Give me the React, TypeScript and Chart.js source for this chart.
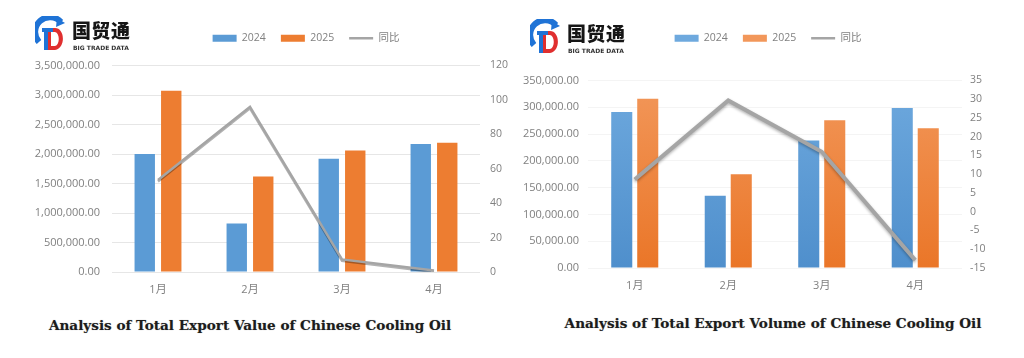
import React, { useEffect, useRef } from 'react';
import { Chart, registerables } from 'chart.js';

Chart.register(...registerables);

// ---------- data ----------
const months = ['1月', '2月', '3月', '4月'];
const seriesNames = ['2024', '2025', '同比'];

const value2024 = [2000000, 820000, 1920000, 2170000];
const value2025 = [3070000, 1620000, 2060000, 2190000];
const valueYoY = [53.5, 96, 7.3, 0.9];

const volume2024 = [291000, 135000, 238000, 298500];
const volume2025 = [316000, 175000, 276000, 261000];
const volumeYoY = [8.6, 29.7, 16, -12.9];

const valueTitle = 'Analysis of Total Export Value of Chinese Cooling Oil';
const volumeTitle = 'Analysis of Total Export Volume of Chinese Cooling Oil';

const valueLeftAxis = { min: 0, max: 3500000, step: 500000 };
const valueRightAxis = { min: 0, max: 120, step: 20 };
const volumeLeftAxis = { min: 0, max: 350000, step: 50000 };
const volumeRightAxis = { min: -15, max: 35, step: 5 };

// ---------- styles ----------
const FONT = '"Open Sans", "Noto Sans CJK SC", sans-serif';
const BLUE = '#5b9bd5';
const ORANGE = '#ed7d31';
const GRAY = '#a5a5a5';
const TICK = '#808080';

function legendTweak(extra: number, shift: number) {
  return {
    id: 'legendTweak',
    beforeInit(chart: any) {
      const lg = chart.legend;
      if (!lg) return;
      const fit = lg.fit;
      lg.fit = function () {
        fit.call(this);
        this.height += extra;
      };
    },
    afterLayout(chart: any) {
      if (chart.legend) chart.legend.left += shift;
    },
  };
}

const lineShadow = (blur: number) => ({
  id: 'lineShadow',
  beforeDatasetDraw(chart: any, args: any) {
    if (args.meta.type !== 'line') return;
    const ctx = chart.ctx;
    ctx.save();
    ctx.shadowColor = 'rgba(0,0,0,0.3)';
    ctx.shadowBlur = blur;
    ctx.shadowOffsetY = 1.5;
  },
  afterDatasetDraw(chart: any, args: any) {
    if (args.meta.type !== 'line') return;
    chart.ctx.restore();
  },
});

function grad(top: string, bottom: string, flat: string, useGrad: boolean) {
  return (c: any) => {
    if (!useGrad) return flat;
    const area = c.chart.chartArea;
    if (!area) return flat;
    const g = c.chart.ctx.createLinearGradient(0, area.top, 0, area.bottom);
    g.addColorStop(0, top);
    g.addColorStop(1, bottom);
    return g;
  };
}

const fmt2 = (v: number) =>
  Number(v).toLocaleString('en-US', { minimumFractionDigits: 2, maximumFractionDigits: 2 });

type Cfg = {
  a: number[];
  b: number[];
  yoy: number[];
  left: { min: number; max: number; step: number };
  right: { min: number; max: number; step: number };
  padding: { left: number; right: number; top: number; bottom: number };
  leftW: number;
  rightW: number;
  leftPad: number;
  rightPad: number;
  xPad: number;
  spacer: number;
  shift: number;
  lineW: number;
  gradient: boolean;
  grid: string;
  cat: number;
  bar: number;
};

const CH = 310;

function ChartBox({ cfg, style }: { cfg: Cfg; style: React.CSSProperties }) {
  const ref = useRef<HTMLCanvasElement | null>(null);
  useEffect(() => {
    if (!ref.current) return;
    const chart = new Chart(ref.current, {
      type: 'bar',
      data: {
        labels: months,
        datasets: [
          {
            type: 'bar',
            label: seriesNames[0],
            data: cfg.a,
            backgroundColor: grad('#6ea9de', '#4f8fcc', BLUE, cfg.gradient),
            yAxisID: 'y',
            order: 1,
            categoryPercentage: cfg.cat,
            barPercentage: cfg.bar,
          },
          {
            type: 'bar',
            label: seriesNames[1],
            data: cfg.b,
            backgroundColor: grad('#f2975a', '#ea7628', ORANGE, cfg.gradient),
            yAxisID: 'y',
            order: 1,
            categoryPercentage: cfg.cat,
            barPercentage: cfg.bar,
          },
          {
            type: 'line',
            label: seriesNames[2],
            data: cfg.yoy,
            borderColor: GRAY,
            backgroundColor: GRAY,
            borderWidth: cfg.lineW,
            pointRadius: 0,
            tension: 0,
            yAxisID: 'y1',
            order: 0,
          },
        ],
      } as any,
      options: {
        animation: false,
        responsive: false,
        maintainAspectRatio: false,
        layout: { padding: cfg.padding },
        plugins: {
          tooltip: { enabled: false },
          legend: {
            position: 'top',
            align: 'center',
            labels: {
              usePointStyle: true,
              pointStyleWidth: 24,
              boxHeight: 7,
              padding: 15,
              color: TICK,
              font: { family: FONT, size: 10.5 },
              sort: (x: any, y: any) => x.datasetIndex - y.datasetIndex,
              generateLabels: (chart: any) =>
                (Chart.defaults.plugins.legend.labels.generateLabels as any)(chart).map((l: any) => ({
                  ...l,
                  pointStyle: l.datasetIndex === 2 ? 'line' : 'rect',
                  lineWidth: l.datasetIndex === 2 ? 2.5 : 0,
                  strokeStyle: l.datasetIndex === 2 ? GRAY : l.strokeStyle,
                })),
            },
          },
        },
        scales: {
          x: {
            grid: { display: false },
            border: { display: false },
            ticks: { color: TICK, font: { family: FONT, size: 11 }, padding: cfg.xPad, maxRotation: 0 },
            afterFit: (s: any) => {
              s.height = 30;
            },
          },
          y: {
            position: 'left',
            min: cfg.left.min,
            max: cfg.left.max,
            grid: { color: cfg.grid, lineWidth: 1, drawTicks: false },
            border: { display: false },
            ticks: {
              stepSize: cfg.left.step,
              color: TICK,
              font: { family: FONT, size: 11 },
              padding: cfg.leftPad,
              callback: (v: any) => fmt2(v),
            },
            afterFit: (s: any) => {
              s.width = cfg.leftW;
            },
          },
          y1: {
            position: 'right',
            min: cfg.right.min,
            max: cfg.right.max,
            grid: { display: false, drawTicks: false },
            border: { display: false },
            ticks: {
              stepSize: cfg.right.step,
              color: TICK,
              font: { family: FONT, size: 10.5 },
              padding: cfg.rightPad,
            },
            afterFit: (s: any) => {
              s.width = cfg.rightW;
            },
          },
        },
      } as any,
      plugins: [legendTweak(cfg.spacer, cfg.shift), lineShadow(cfg.gradient ? 3 : 0)],
    });
    return () => chart.destroy();
  }, []);
  return <canvas ref={ref} width={512} height={CH} style={{ position: 'absolute', ...style }} />;
}

function Logo({ x, y }: { x: number; y: number }) {
  return (
    <div style={{ position: 'absolute', left: x, top: y, width: 100, height: 40 }}>
      <svg width="33" height="37" viewBox="0 0 33 37" style={{ position: 'absolute', left: 0, top: 0 }}>
        <path d="M4 26 A14 14 0 0 1 26 6" fill="none" stroke="#1f73d6" strokeWidth="6" />
        <path d="M22 2 L30 7 L21 11 Z" fill="#1f73d6" />
        <path d="M12 12 L20 12 C30 12 31 32 20 34 L12 34 Z" fill="#e02f2f" />
        <path d="M16 16 L20 16 C25 17 25 29 20 30 L16 30 Z" fill="#ffffff" />
        <path d="M7 12 L18 12 L18 16 L13 16 L13 34 L9 34 L9 16 L7 16 Z" fill="#1f73d6" />
      </svg>
      <div
        style={{
          position: 'absolute',
          left: 37,
          top: 3,
          fontFamily: '"Noto Sans CJK SC", sans-serif',
          fontWeight: 900,
          fontSize: 19,
          lineHeight: '22px',
          color: '#161616',
          letterSpacing: 0.5,
          whiteSpace: 'nowrap',
        }}
      >
        国贸通
      </div>
      <div
        style={{
          position: 'absolute',
          left: 38,
          top: 28,
          fontFamily: '"DejaVu Sans", sans-serif',
          fontWeight: 700,
          fontSize: 6,
          lineHeight: '8px',
          color: '#333',
          whiteSpace: 'nowrap',
        }}
      >
        BIG TRADE DATA
      </div>
    </div>
  );
}

const titleStyle: React.CSSProperties = {
  position: 'absolute',
  fontFamily: '"DejaVu Serif", "Liberation Serif", serif',
  fontWeight: 700,
  fontSize: 13.6,
  lineHeight: '18px',
  color: '#1c1c1c',
  textAlign: 'center',
  whiteSpace: 'nowrap',
  textShadow: '0 0 1px rgba(0,0,0,0.35)',
};

const valueCfg: Cfg = {
  a: value2024,
  b: value2025,
  yoy: valueYoY,
  left: valueLeftAxis,
  right: valueRightAxis,
  padding: { left: 30, right: 0, top: 18, bottom: 8 },
  leftW: 82,
  rightW: 32,
  leftPad: 12,
  rightPad: 10,
  xPad: 3,
  spacer: 12,
  shift: 70,
  lineW: 2.5,
  gradient: false,
  grid: '#e6e6e6',
  cat: 0.576,
  bar: 0.77,
};

const volumeCfg: Cfg = {
  a: volume2024,
  b: volume2025,
  yoy: volumeYoY,
  left: volumeLeftAxis,
  right: volumeRightAxis,
  padding: { left: 0, right: 0, top: 18, bottom: 12 },
  leftW: 76,
  rightW: 62,
  leftPad: 9,
  rightPad: 8,
  xPad: 3,
  spacer: 27,
  shift: 0,
  lineW: 4,
  gradient: true,
  grid: '#f4f4f4',
  cat: 0.556,
  bar: 0.81,
};

export default function App() {
  return (
    <div style={{ position: 'absolute', left: 0, top: 0, width: 1024, height: 358, background: '#fff', overflow: 'hidden' }}>
      <ChartBox cfg={valueCfg} style={{ left: 0, top: 0 }} />
      <ChartBox cfg={volumeCfg} style={{ left: 512, top: 0 }} />
      <Logo x={35} y={16} />
      <Logo x={530} y={19} />
      <div style={{ ...titleStyle, left: 0, width: 500, top: 316 }}>{valueTitle}</div>
      <div style={{ ...titleStyle, left: 546, width: 454, top: 314 }}>{volumeTitle}</div>
    </div>
  );
}
